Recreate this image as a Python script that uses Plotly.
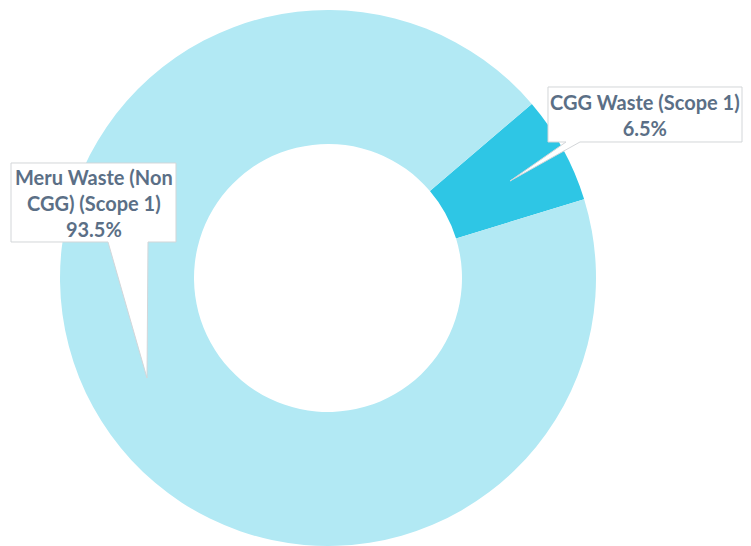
import plotly.graph_objects as go

W, H = 751, 546

# Waste breakdown (share of total, %)
labels = ["CGG Waste (Scope 1)", "Meru Waste (Non CGG) (Scope 1)"]
values = [6.5, 93.5]
slice_colors = ["#2EC6E5", "#B2E9F4"]
callout_text = [
    "CGG Waste (Scope 1)<br>6.5%",
    "Meru Waste (Non<br>CGG) (Scope 1)<br>93.5%",
]

TEXT_COLOR = "#5B6F86"
FONT = "Lato"


def px(x):
    return x / W


def py(y):
    return 1 - y / H


def bubble_path(pts):
    xs = [px(x) for x, _ in pts]
    ys = [py(y) for _, y in pts]
    d = "M " + " L ".join(f"{x:.5f},{y:.5f}" for x, y in zip(xs, ys)) + " Z"
    return d


fig = go.Figure()
fig.add_trace(go.Pie(
    labels=labels,
    values=values,
    hole=0.5,
    sort=False,
    direction="clockwise",
    rotation=49.5,
    marker=dict(colors=slice_colors, line=dict(width=0)),
    textinfo="none",
    hoverinfo="label+percent",
    showlegend=False,
    domain=dict(x=[px(328 - 268), px(328 + 268)], y=[0.0, 0.9817]),
))

# speech-bubble callouts (box + pointer) drawn in page coordinates
callouts = [
    # CGG label box with pointer into the dark slice
    dict(pts=[(548, 87), (742, 87), (742, 142), (580, 142), (510, 181),
              (566, 142), (548, 142)],
         cx=645, cy=115, text=callout_text[0]),
    # Meru label box with pointer down into the ring
    dict(pts=[(11, 163), (176, 163), (176, 242), (148, 242), (147, 378),
              (108, 242), (11, 242)],
         cx=93.5, cy=203, text=callout_text[1]),
]

for c in callouts:
    fig.add_shape(
        type="path",
        xref="paper", yref="paper",
        path=bubble_path(c["pts"]),
        fillcolor="white",
        line=dict(color="#D3D6D9", width=1),
        layer="above",
    )
    fig.add_annotation(
        xref="paper", yref="paper",
        x=px(c["cx"]), y=py(c["cy"]),
        xanchor="center", yanchor="middle",
        text=c["text"],
        showarrow=False,
        align="center",
        font=dict(family=FONT, size=20, color=TEXT_COLOR, weight="bold"),
    )

fig.update_layout(
    width=W, height=H,
    margin=dict(l=0, r=0, t=0, b=0),
    paper_bgcolor="white",
    plot_bgcolor="white",
)

fig.write_html("out.html")
